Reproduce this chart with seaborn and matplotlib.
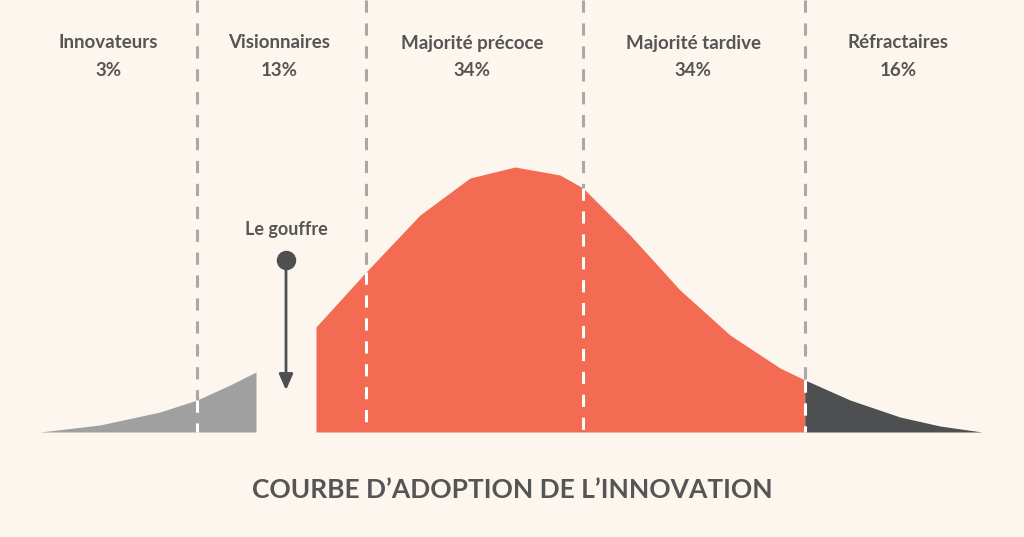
import numpy as np
import matplotlib.pyplot as plt
import seaborn as sns

# curve: x position (px) and height above baseline (px)
left_x = [40, 100, 160, 197, 230, 256]
left_h = [0, 7, 20, 32, 47, 60]
mid_x = [316, 366, 420, 470, 515, 560, 583, 630, 680, 730, 780, 805]
mid_h = [105, 160, 217, 254, 265, 257, 244, 197, 142, 97, 64, 52]
right_x = [805, 850, 900, 940, 982]
right_h = [52, 32, 15, 6, 0]

dividers = [197, 366, 583, 805]
groups = ["Innovateurs", "Visionnaires", "Majorité précoce", "Majorité tardive", "Réfractaires"]
shares = ["3%", "13%", "34%", "34%", "16%"]
group_x = [108, 279, 472, 693, 898]

BASE = 432
bg = "#FDF6EE"
txt = "#555555"

sns.set_theme(style="white")
plt.rcParams['font.family'] = ['Lato', 'DejaVu Sans']

fig = plt.figure(figsize=(10.24, 5.37), dpi=100, facecolor=bg)
ax = fig.add_axes([0, 0, 1, 1], facecolor=bg)
ax.set_xlim(0, 1024)
ax.set_ylim(537, 0)
ax.axis("off")

for d in dividers:
    ax.plot([d, d], [0, BASE], color="#A8A8A8", lw=2.2, ls=(0, (4, 3.5)), zorder=1)

def fill(xs, hs, color):
    xs = np.array(xs)
    ys = BASE - np.array(hs)
    ax.fill_between(xs, ys, BASE, color=color, lw=0, zorder=2)

fill(left_x, left_h, "#A0A0A0")
fill(mid_x, mid_h, "#F26B52")
fill(right_x, right_h, "#4D4F51")

all_x = left_x + mid_x + right_x
all_h = left_h + mid_h + right_h
for d in dividers:
    top = BASE - np.interp(d, all_x, all_h)
    ax.plot([d, d], [top, BASE], color="white", lw=2.2, ls=(0, (4, 3.5)), zorder=3)

for g, s, x in zip(groups, shares, group_x):
    ax.text(x, 43, g, ha="center", va="center", fontsize=13.5, fontweight="bold", color=txt)
    ax.text(x, 70, s, ha="center", va="center", fontsize=13.5, fontweight="bold", color=txt)

ax.text(286, 230, "Le gouffre", ha="center", va="center", fontsize=13, fontweight="bold", color=txt)
ax.plot([286], [260], "o", ms=13, color="#4D4F51", zorder=4)
ax.annotate("", xy=(286, 393), xytext=(286, 262),
            arrowprops=dict(arrowstyle="-|>,head_length=0.8,head_width=0.35", color="#4D4F51", lw=2))

ax.text(512, 490, "COURBE D’ADOPTION DE L’INNOVATION", ha="center", va="center",
        fontsize=19, fontweight="bold", color=txt)

fig.savefig("out.png", dpi=100, facecolor=bg)
